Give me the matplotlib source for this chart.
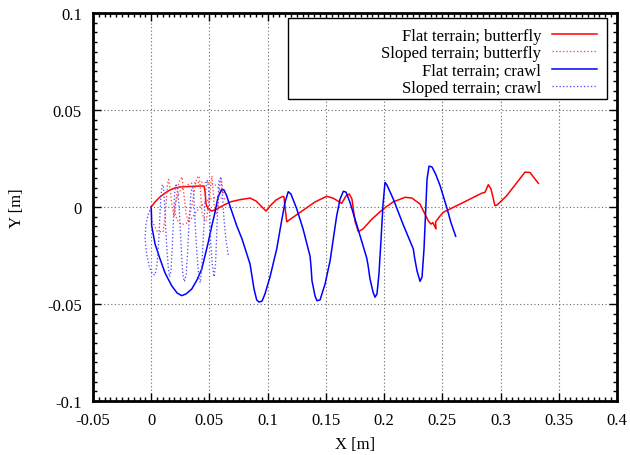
import numpy as np
import matplotlib
matplotlib.use('Agg')
import matplotlib.pyplot as plt
from matplotlib.patches import Rectangle
from matplotlib.ticker import MultipleLocator

plt.rcParams['font.family'] = ['Liberation Serif', 'DejaVu Serif']
plt.rcParams['font.size'] = 12

# flat terrain, butterfly gait
flat_fly_x = [0.0, 0.0033, 0.0076, 0.0119, 0.0161, 0.0204, 0.0247, 0.0333, 0.0419, 0.0453,
              0.0462, 0.0471, 0.0488, 0.0522, 0.0565, 0.0608, 0.0677, 0.0763, 0.0849, 0.0900,
              0.0952, 0.0986, 0.1020, 0.1072, 0.1129, 0.1140, 0.1153, 0.1164, 0.1235, 0.1321,
              0.1407, 0.1507, 0.1561, 0.1636, 0.1673, 0.1701, 0.1724, 0.1750, 0.1779, 0.1819,
              0.1896, 0.1993, 0.2077, 0.2180, 0.2240, 0.2309, 0.2380, 0.2403, 0.2418, 0.2446,
              0.2442, 0.2481, 0.2509, 0.2652, 0.2755, 0.2838, 0.2867, 0.2895, 0.2918, 0.2952,
              0.2970, 0.3053, 0.3124, 0.3210, 0.3253, 0.3325]
flat_fly_y = [0.0, 0.0026, 0.0052, 0.0072, 0.0088, 0.0098, 0.0103, 0.0106, 0.0108, 0.0108,
              0.0082, 0.0015, -0.0010, -0.0021, -0.0010, 0.0005, 0.0026, 0.0038, 0.0046, 0.0031,
              0.0, -0.0021, 0.0005, 0.0036, 0.0055, 0.0052, -0.0021, -0.0076, -0.0046, -0.0010,
              0.0026, 0.0055, 0.0046, 0.0019, 0.0057, 0.0067, 0.0041, -0.0072, -0.0127, -0.0113,
              -0.0062, -0.0010, 0.0026, 0.0050, 0.0046, 0.0015, -0.0072, -0.0088, -0.0080, -0.0113,
              -0.0077, -0.0046, -0.0027, 0.0015, 0.0046, 0.0071, 0.0076, 0.0115, 0.0093, 0.0007,
              0.0010, 0.0058, 0.0113, 0.0180, 0.0178, 0.0122]

# sloped terrain, butterfly gait
slope_fly_x = [0.0, 0.0007, 0.0050, 0.0101, 0.0118, 0.0130, 0.0140, 0.0150, 0.0163, 0.0178,
               0.0196, 0.0213, 0.0239, 0.0265, 0.0282, 0.0299, 0.0316, 0.0333, 0.0359, 0.0376,
               0.0393, 0.0411, 0.0419, 0.0428, 0.0436, 0.0453, 0.0471, 0.0488, 0.0505, 0.0514,
               0.0522, 0.0531, 0.0539, 0.0557, 0.0574, 0.0582, 0.0591, 0.0600, 0.0608, 0.0625,
               0.0600, 0.0560, 0.0500, 0.0430, 0.0360, 0.0300, 0.0250, 0.0220, 0.0200, 0.0210,
               0.0230, 0.0260, 0.0300, 0.0345, 0.0380, 0.0420, 0.0470, 0.0520, 0.0570, 0.0642]
slope_fly_y = [0.0, -0.0072, -0.0124, -0.0129, -0.0060, 0.0040, 0.0120, 0.0142, 0.0090, 0.0010,
               -0.0050, 0.0040, 0.0130, 0.0155, 0.0060, -0.0035, -0.0072, -0.0040, 0.0040, 0.0110,
               0.0150, 0.0160, 0.0120, 0.0040, -0.0030, -0.0060, -0.0072, -0.0010, 0.0067, 0.0134,
               0.0160, 0.0093, 0.0015, -0.0036, -0.0010, 0.0067, 0.0129, 0.0155, 0.0119, 0.0067,
               0.0080, 0.0110, 0.0125, 0.0128, 0.0125, 0.0112, 0.0085, 0.0045, 0.0000, -0.0045,
               -0.0075, -0.0090, -0.0085, -0.0060, -0.0030, 0.0000, 0.0030, 0.0045, 0.0050, 0.0041]

# flat terrain, crawl gait
flat_crawl_x = [0.0, 0.0004, 0.0033, 0.0076, 0.0119, 0.0176, 0.0222, 0.0262, 0.0299, 0.0348,
                0.0393, 0.0434, 0.0490, 0.0522, 0.0548, 0.0574, 0.0605, 0.0625, 0.0648, 0.0685,
                0.0734, 0.0780, 0.0849, 0.0861, 0.0883, 0.0906, 0.0926, 0.0952, 0.0977, 0.1020,
                0.1078, 0.1115, 0.1149, 0.1177, 0.1200, 0.1250, 0.1304, 0.1364, 0.1372, 0.1381,
                0.1407, 0.1424, 0.1450, 0.1493, 0.1536, 0.1593, 0.1622, 0.1650, 0.1673, 0.1707,
                0.1776, 0.1851, 0.1862, 0.1879, 0.1905, 0.1922, 0.1939, 0.1956, 0.1974, 0.1991,
                0.2008, 0.2025, 0.2079, 0.2162, 0.2251, 0.2261, 0.2283, 0.2309, 0.2326, 0.2343,
                0.2356, 0.2369, 0.2386, 0.2412, 0.2446, 0.2481, 0.2538, 0.2575, 0.2615]
flat_crawl_y = [0.0, -0.0096, -0.0191, -0.0268, -0.0340, -0.0406, -0.0443, -0.0457, -0.0448, -0.0423,
                -0.0376, -0.0320, -0.0182, -0.0093, -0.0027, 0.0052, 0.0089, 0.0088, 0.0058, -0.0010,
                -0.0096, -0.0165, -0.0294, -0.0340, -0.0423, -0.0479, -0.0490, -0.0485, -0.0448, -0.0361,
                -0.0216, -0.0088, 0.0024, 0.0079, 0.0067, -0.0010, -0.0113, -0.0253, -0.0303, -0.0381,
                -0.0459, -0.0483, -0.0479, -0.0397, -0.0278, -0.0045, 0.0041, 0.0081, 0.0077, 0.0024,
                -0.0113, -0.0263, -0.0299, -0.0371, -0.0438, -0.0465, -0.0448, -0.0345, -0.0165, 0.0015,
                0.0127, 0.0113, 0.0041, -0.0088, -0.0216, -0.0258, -0.0330, -0.0383, -0.0361, -0.0216,
                -0.0036, 0.0144, 0.0211, 0.0206, 0.0165, 0.0110, -0.0002, -0.0082, -0.0151]

# sloped terrain, crawl gait
slope_crawl_x = [0.0, -0.0027, -0.0045, -0.0053, -0.0040, -0.0015, 0.0010, 0.0033, 0.0050, 0.0062,
                 0.0072, 0.0082, 0.0095, 0.0105, 0.0112, 0.0122, 0.0135, 0.0148, 0.0158, 0.0170,
                 0.0180, 0.0190, 0.0200, 0.0212, 0.0225, 0.0240, 0.0252, 0.0262, 0.0272, 0.0285,
                 0.0300, 0.0313, 0.0325, 0.0340, 0.0352, 0.0362, 0.0372, 0.0385, 0.0400, 0.0412,
                 0.0422, 0.0432, 0.0445, 0.0458, 0.0470, 0.0482, 0.0492, 0.0502, 0.0512, 0.0525,
                 0.0540, 0.0552, 0.0562, 0.0572, 0.0582, 0.0595, 0.0610, 0.0625, 0.0642, 0.0662]
slope_crawl_y = [0.0, -0.0040, -0.0090, -0.0160, -0.0240, -0.0310, -0.0345, -0.0350, -0.0300, -0.0200,
                 -0.0080, 0.0050, 0.0115, 0.0110, 0.0040, -0.0080, -0.0220, -0.0320, -0.0360, -0.0330,
                 -0.0220, -0.0080, 0.0060, 0.0120, 0.0100, 0.0000, -0.0140, -0.0260, -0.0350, -0.0385,
                 -0.0350, -0.0230, -0.0080, 0.0060, 0.0110, 0.0090, -0.0020, -0.0170, -0.0300, -0.0375,
                 -0.0390, -0.0330, -0.0190, -0.0030, 0.0100, 0.0140, 0.0100, -0.0030, -0.0190, -0.0300,
                 -0.0360, -0.0300, -0.0150, 0.0020, 0.0140, 0.0150, 0.0080, -0.0060, -0.0170, -0.0251]

fig = plt.figure(figsize=(6.3, 4.56), dpi=100)
ax = fig.add_axes([0.1476, 0.1184, 0.8317, 0.8509])

ax.plot(flat_fly_x, flat_fly_y, '-', color='#ff0000', lw=1.1, solid_joinstyle='round',
        label='Flat terrain; butterfly')
ax.plot(slope_fly_x, slope_fly_y, ':', color='#ff4848', lw=0.95, label='Sloped terrain; butterfly')
ax.plot(flat_crawl_x, flat_crawl_y, '-', color='#0000ff', lw=1.1, solid_joinstyle='round',
        label='Flat terrain; crawl')
ax.plot(slope_crawl_x, slope_crawl_y, ':', color='#5050ff', lw=0.95, label='Sloped terrain; crawl')

ax.set_xlim(-0.05, 0.4)
ax.set_ylim(-0.1, 0.1)
ax.xaxis.set_major_locator(MultipleLocator(0.05))
ax.yaxis.set_major_locator(MultipleLocator(0.05))
ax.xaxis.set_minor_locator(MultipleLocator(0.005))
ax.yaxis.set_minor_locator(MultipleLocator(0.005))
ax.set_xticklabels(['%g' % v for v in ax.get_xticks()])
ax.set_yticklabels(['%g' % v for v in ax.get_yticks()])
ax.tick_params(which='both', direction='in', top=True, right=True, width=1.0)
ax.tick_params(which='major', length=6, pad=8)
ax.tick_params(which='minor', length=3)
ax.grid(True, which='major', color='0.4', linestyle=(0, (1, 2.2)), linewidth=0.8)
for sp in ax.spines.values():
    sp.set_linewidth(2)

ax.set_xlabel('X [m]', labelpad=6)
ax.set_ylabel('Y [m]', labelpad=16)

# key box drawn separately so it can be wider than its contents
ax.add_patch(Rectangle((0.372, 0.778), 0.609, 0.209, transform=ax.transAxes,
                       facecolor='white', edgecolor='black', lw=1.0, zorder=4))
leg = ax.legend(loc='upper right', bbox_to_anchor=(0.981, 0.987), frameon=False,
                markerfirst=False, handlelength=2.7, handletextpad=0.65,
                labelspacing=0.07, borderpad=0.6, borderaxespad=0)
leg.set_zorder(5)

plt.savefig('out.png', dpi=100)
